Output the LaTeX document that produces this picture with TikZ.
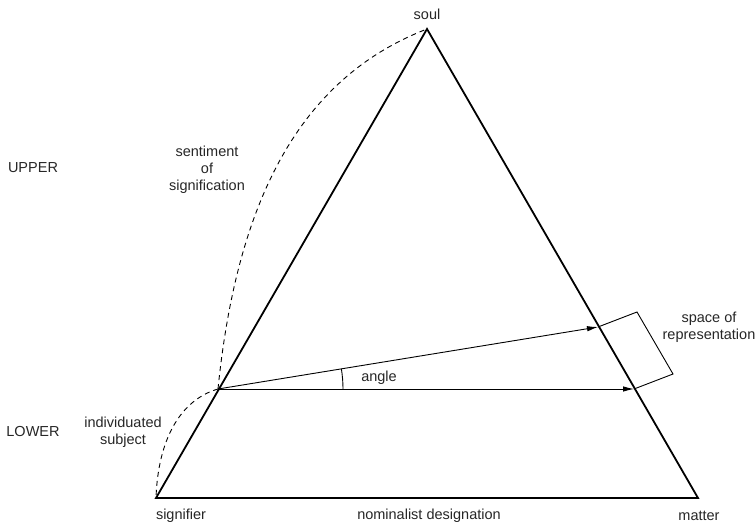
\documentclass[tikz,border=0pt]{standalone}
\usepackage{fontspec}
\setmainfont{Liberation Sans}
\usetikzlibrary{arrows.meta,calc}
\begin{document}
\begin{tikzpicture}[x=1pt,y=1pt,
  lbl/.style={font=\fontsize{14.5}{17}\selectfont, inner sep=0pt, align=center, text=black!85},
  side/.style={line width=1.8pt, line join=miter},
  thin/.style={line width=0.9pt},
  arr/.style={thin, -{Latex[length=11pt,width=5.5pt]}},
  dsh/.style={line width=0.9pt, dash pattern=on 5pt off 4pt}]
\useasboundingbox (0,0) rectangle (755,525);
% vertices and points
\coordinate (A) at (427,496);
\coordinate (L) at (156,27);
\coordinate (R) at (698,27);
\coordinate (V) at (218,136);
\coordinate (P1) at (598,198);
\coordinate (P2) at (634,136);
\coordinate (B1) at (637,213);
\coordinate (B2) at (673,151);
\coordinate (Q) at (343,136);
% triangle
\draw[side] (L) -- (A) -- (R) -- cycle;
% arrows
\draw[arr] (V) -- (P1);
\draw[arr] (V) -- (P2);
% angle arc
\draw[thin] (Q) arc[start angle=0, end angle=9.3, radius=125];
% bracket
\draw[thin] (P1) -- (B1) -- (B2) -- (P2);
% dashed curves
\draw[dsh] (V) .. controls (237,325) and (300,447) .. (A);
\draw[dsh] (V) .. controls (180,125) and (158,85) .. (L);
% labels
\node[lbl] (soul) at (427,511) {soul};
\node[lbl] (upper) at (33,357) {UPPER};
\node[lbl] (sent) at (207,355) {sentiment\\of\\signification};
\node[lbl] (lower) at (33,93) {LOWER};
\node[lbl] (indiv) at (123,93) {individuated\\subject};
\node[lbl] (signifier) at (181,9) {signifier};
\node[lbl] (nom) at (429,9) {nominalist designation};
\node[lbl] (matter) at (699,9) {matter};
\node[lbl] (angle) at (379,147) {angle};
\node[lbl] (space) at (709,198) {space of\\representation};
\end{tikzpicture}
\end{document}
